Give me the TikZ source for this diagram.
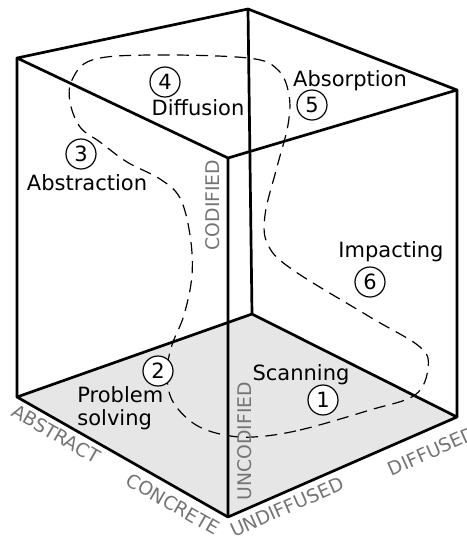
\documentclass[tikz,border=0pt]{standalone}
\usepackage{fontspec}
\setmainfont{DejaVu Sans}
\definecolor{floorgray}{HTML}{E6E6E6}
\definecolor{axisgray}{HTML}{747474}
\begin{document}
\begin{tikzpicture}[x=0.5pt,y=-0.5pt,
  edge/.style={line width=1.35pt,line join=round},
  loop/.style={line width=0.6pt,dash pattern=on 6pt off 3.6pt},
  axislabel/.style={text=axisgray,inner sep=0pt,font=\fontsize{9.4}{10}\selectfont},
  phase/.style={inner sep=0pt,align=left,font=\fontsize{10.5}{11.5}\selectfont},
  num/.style={circle,draw,fill=white,line width=0.6pt,inner sep=0pt,minimum size=15pt,font=\fontsize{10.5}{12}\selectfont}]
\useasboundingbox (0,0) rectangle (467,538);
% cube corners
\coordinate (tl) at (17,58); \coordinate (tb) at (248,9);
\coordinate (tr) at (457,90); \coordinate (tf) at (228,158);
\coordinate (bl) at (17,397); \coordinate (bb) at (252,314);
\coordinate (br) at (457,417); \coordinate (bf) at (228,517);
\fill[floorgray] (bl)--(bb)--(br)--(bf)--cycle;
% the knowledge cycle
\draw[loop] plot[smooth cycle,tension=0.6] coordinates {(253,437) (300,430) (370,410) (415,395) (428,368) (420,347) (370,317) (293,270) (268,245) (265,215) (277,167) (288,125) (289,95) (278,70) (248,58) (150,55) (92,60) (72,80) (70,102) (80,127) (100,142) (127,162) (160,179) (180,198) (190,235) (192,275) (184,315) (172,345) (167,372) (172,400) (193,423) (220,434)};
\draw[edge] (tl)--(tb)--(tr)--(tf)--cycle;
\draw[edge] (tl)--(bl) (tb)--(bb) (tr)--(br) (tf)--(bf);
\draw[edge] (bl)--(bb)--(br)--(bf)--cycle;
% axis labels
\node[axislabel,rotate=90] (codified) at (213,205) {CODIFIED};
\node[axislabel,rotate=90] (uncodified) at (245,441) {UNCODIFIED};
\node[axislabel,rotate=-30] (abstract) at (56,434) {ABSTRACT};
\node[axislabel,rotate=-30] (concrete) at (173,504) {CONCRETE};
\node[axislabel,rotate=24] (undiffused) at (287,507) {UNDIFFUSED};
\node[axislabel,rotate=24] (diffused) at (432,451) {DIFFUSED};
% phases
\node[num] (n1) at (323,400) {1};
\node[phase] (scanning) at (301,375) {Scanning};
\node[num] (n2) at (158,371) {2};
\node[phase,anchor=north west] (solving) at (77,386) {Problem\\solving};
\node[num] (n3) at (81,154) {3};
\node[phase] (abstraction) at (87,183) {Abstraction};
\node[num] (n4) at (165,82) {4};
\node[phase] (diffusion) at (198,108) {Diffusion};
\node[num] (n5) at (312,105) {5};
\node[phase] (absorption) at (350,81) {Absorption};
\node[num] (n6) at (370,282) {6};
\node[phase] (impacting) at (391,252) {Impacting};
\end{tikzpicture}
\end{document}
